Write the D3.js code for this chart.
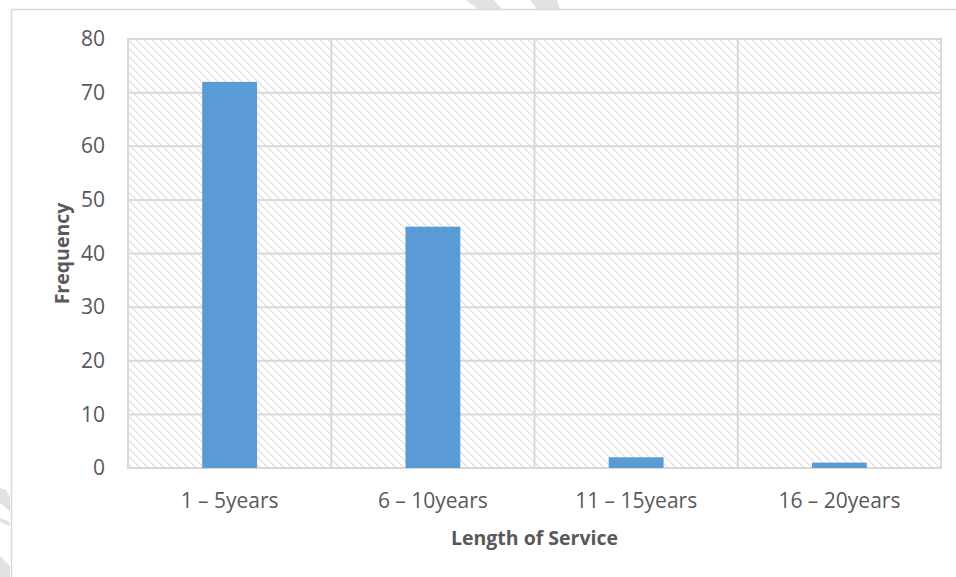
<!DOCTYPE html>
<html>
<head>
<meta charset="utf-8">
<script src="https://cdn.jsdelivr.net/npm/d3@7"></script>
<style>
  html, body { margin: 0; padding: 0; background: #fff; }
  svg { display: block; }
  text { font-family: "Open Sans", "Liberation Sans", sans-serif; fill: #595959; }
</style>
</head>
<body>
<svg id="chart" width="956" height="577"></svg>
<script>
// Length of service distribution
const categories = ["1 – 5years", "6 – 10years", "11 – 15years", "16 – 20years"];
const frequency = [72, 45, 2, 1];
const yTicks = [0, 10, 20, 30, 40, 50, 60, 70, 80];

const svg = d3.select("#chart");
const W = 956, H = 577;
const plot = { left: 128, right: 941, top: 39, bottom: 468 };
const grey = "#d9d9d9";

// diagonal hatch fill for the plot area
const defs = svg.append("defs");
const pat = defs.append("pattern")
  .attr("id", "hatch").attr("patternUnits", "userSpaceOnUse")
  .attr("width", 8).attr("height", 8);
pat.append("rect").attr("width", 8).attr("height", 8).attr("fill", "#fff");
d3.range(8).forEach(i => {
  pat.append("rect").attr("x", i).attr("y", i).attr("width", 1).attr("height", 1).attr("fill", "#dcdcdc");
  pat.append("rect").attr("x", (i + 1) % 8).attr("y", i).attr("width", 1).attr("height", 1).attr("fill", "#efefef");
});

// faint page marks outside the chart frame
const marks = svg.append("g").attr("fill", "#e2e2e2");
marks.append("polygon").attr("points", "466,0 494,0 502,9 478,9");
marks.append("polygon").attr("points", "530,0 557,0 560,9 537,9");
marks.append("polygon").attr("points", "0,488 6,490 10,497 10,512 4,506 0,503");
marks.append("polygon").attr("points", "0,518 10,522 10,526 0,522");
marks.append("polygon").attr("points", "0,556 10,566 10,577 0,577");

// outer chart frame
svg.append("rect").attr("x", 11.5).attr("y", 9.5).attr("width", W).attr("height", H)
  .attr("fill", "#fff").attr("stroke", grey).attr("stroke-width", 1.5);

const x = d3.scaleBand().domain(categories)
  .range([plot.left, plot.right]).paddingInner(0.73).paddingOuter(0.365);
const y = d3.scaleLinear().domain([0, 80]).range([plot.bottom, plot.top]);

svg.append("rect")
  .attr("x", plot.left).attr("y", plot.top)
  .attr("width", plot.right - plot.left).attr("height", plot.bottom - plot.top)
  .attr("fill", "url(#hatch)").attr("stroke", grey).attr("stroke-width", 2);

// horizontal gridlines
svg.append("g").selectAll("line").data(yTicks).join("line")
  .attr("x1", plot.left).attr("x2", plot.right)
  .attr("y1", d => y(d)).attr("y2", d => y(d))
  .attr("stroke", grey).attr("stroke-width", 2);

// vertical separators between categories
const step = x.step();
svg.append("g").selectAll("line").data(categories.slice(1)).join("line")
  .attr("x1", d => x(d) - step * x.paddingInner() / 2)
  .attr("x2", d => x(d) - step * x.paddingInner() / 2)
  .attr("y1", plot.top).attr("y2", plot.bottom)
  .attr("stroke", grey).attr("stroke-width", 2);

// bars
svg.append("g").selectAll("rect").data(frequency).join("rect")
  .attr("x", (d, i) => x(categories[i]))
  .attr("y", d => y(d))
  .attr("width", x.bandwidth())
  .attr("height", d => y(0) - y(d))
  .attr("fill", "#5b9bd5");

// y tick labels
const yAxis = svg.append("g").attr("transform", `translate(${plot.left},0)`)
  .call(d3.axisLeft(y).tickValues(yTicks).tickSize(0).tickPadding(23));
yAxis.select(".domain").remove();
yAxis.selectAll("text").style("font-size", "21px").attr("fill", "#595959")
  .style("font-family", "'Open Sans', sans-serif");

// x tick labels
const xAxis = svg.append("g").attr("transform", `translate(0,${plot.bottom})`)
  .call(d3.axisBottom(x).tickSize(0).tickPadding(25));
xAxis.select(".domain").remove();
xAxis.selectAll("text").style("font-size", "21px").attr("fill", "#595959")
  .style("font-family", "'Open Sans', sans-serif");

// axis titles
svg.append("text").attr("x", (plot.left + plot.right) / 2).attr("y", 545)
  .attr("text-anchor", "middle").style("font-size", "19.5px").style("font-weight", "bold")
  .text("Length of Service");
svg.append("text")
  .attr("transform", `translate(69,${(plot.top + plot.bottom) / 2}) rotate(-90)`)
  .attr("text-anchor", "middle").style("font-size", "19.5px").style("font-weight", "bold")
  .text("Frequency");
</script>
</body>
</html>
